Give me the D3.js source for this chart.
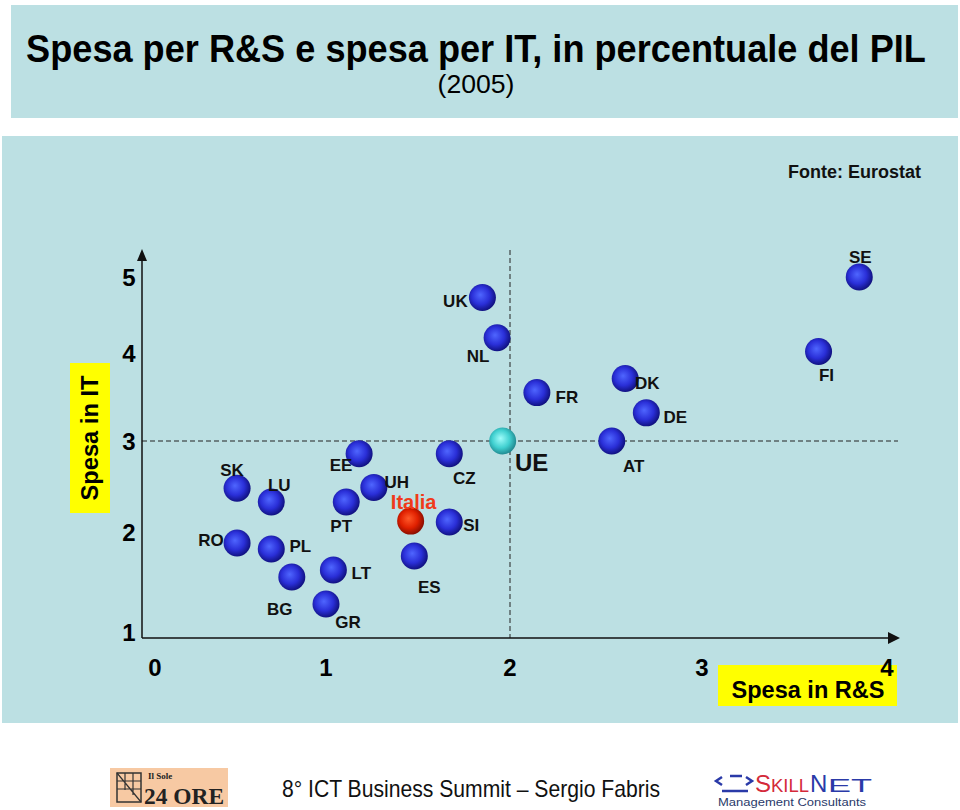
<!DOCTYPE html>
<html>
<head>
<meta charset="utf-8">
<script src="https://cdn.jsdelivr.net/npm/d3@7"></script>
<style>
  html, body { margin: 0; padding: 0; background: #ffffff; }
  svg { display: block; font-family: "Liberation Sans", Arial, sans-serif; }
</style>
</head>
<body>
<svg id="chart" width="960" height="810"></svg>
<script>
// ---- DATA ----
const countries = ["UK","NL","UE","EE","CZ","SK","LU","PT","UH","Italia","SI","RO","PL","BG","LT","ES","GR","SE","FI","FR","DK","DE","AT"];
const spesaRS   = [1.85,1.93,1.96,1.18,1.67,0.48,0.68,1.11,1.26,1.46,1.67,0.48,0.68,0.80,1.04,1.48,1.00,3.85,3.63,2.14,2.60,2.71,2.53];
const spesaIT   = [4.73,4.20,3.00,2.86,2.86,2.48,2.33,2.33,2.49,2.12,2.11,1.89,1.83,1.55,1.62,1.76,1.28,5.00,4.02,3.55,3.71,3.32,3.00];
const xTicks = [0,1,2,3,4];
const yTicks = [1,2,3,4,5];
const refRS = 2;   // dashed reference (UE)
const refIT = 3;

// ---- LAYOUT / STYLE ----
const labelOffsets = {
  UK:[-27,3], NL:[-19,18], UE:[29,22], EE:[-18,11], CZ:[15,24], SK:[-5,-18],
  LU:[8,-17], PT:[-5,24], UH:[23,-5], Italia:[3,-18], SI:[22,3], RO:[-26,-3],
  PL:[29,-3], BG:[-12,32], LT:[28,3], ES:[15,31], GR:[22,18], SE:[1,-20],
  FI:[8,24], FR:[30,4], DK:[22,4], DE:[29,4], AT:[22,25]
};
const bg = "#bce0e3";
const svg = d3.select("#chart");
const defs = svg.append("defs");

function grad(id, c0, c1, c2) {
  const g = defs.append("radialGradient").attr("id", id)
    .attr("cx", "45%").attr("cy", "45%").attr("r", "60%").attr("fx", "42%").attr("fy", "40%");
  g.append("stop").attr("offset", "0%").attr("stop-color", c0);
  g.append("stop").attr("offset", "55%").attr("stop-color", c1);
  g.append("stop").attr("offset", "100%").attr("stop-color", c2);
}
grad("gBlue", "#4f66ff", "#2a2fd8", "#0c0c70");
grad("gRed", "#ff5a2a", "#e02000", "#7a0a00");
grad("gCyan", "#9ffcfa", "#40d0d0", "#1a7d85");

// panels
svg.append("rect").attr("x", 11).attr("y", 5).attr("width", 947).attr("height", 113).attr("fill", bg);
svg.append("rect").attr("x", 2).attr("y", 136).attr("width", 956).attr("height", 587).attr("fill", bg);

// title (condensed horizontally to fit, like the original)
const tg = svg.append("g");
const tt = tg.append("text").attr("x", 0).attr("y", 0).attr("text-anchor", "middle")
  .attr("font-size", 38).attr("font-weight", "bold")
  .text("Spesa per R&S e spesa per IT, in percentuale del PIL");
const tLen = tt.node().getComputedTextLength();
tg.attr("transform", `translate(476,62) scale(${900 / tLen},1)`);

const sg = svg.append("g");
const st = sg.append("text").attr("x", 0).attr("y", 0).attr("text-anchor", "middle")
  .attr("font-size", 26).text("(2005)");
sg.attr("transform", `translate(476,93) scale(${77 / st.node().getComputedTextLength()},1)`);

svg.append("text").attr("x", 921).attr("y", 178).attr("text-anchor", "end")
  .attr("font-size", 17.5).attr("font-weight", "bold").attr("fill", "#111")
  .attr("textLength", 133).attr("lengthAdjust", "spacingAndGlyphs").text("Fonte: Eurostat");

// scales (piecewise, following the hand-placed tick labels)
const x = d3.scaleLinear().domain(xTicks).range([155, 326, 510, 702, 887]);
const y = d3.scaleLinear().domain(yTicks).range([632, 532, 441, 353, 277]);

const x0 = 142, xEnd = 900, yBase = 638, yTop = 249;

// reference dashed lines
svg.append("line").attr("x1", x0).attr("x2", 898).attr("y1", y(refIT)).attr("y2", y(refIT))
  .attr("stroke", "#222").attr("stroke-width", 1).attr("stroke-dasharray", "5,3");
svg.append("line").attr("x1", x(refRS)).attr("x2", x(refRS)).attr("y1", 250).attr("y2", yBase)
  .attr("stroke", "#222").attr("stroke-width", 1).attr("stroke-dasharray", "5,3");

// axes
svg.append("line").attr("x1", x0).attr("x2", x0).attr("y1", yBase).attr("y2", yTop + 10)
  .attr("stroke", "#111").attr("stroke-width", 1.5);
svg.append("path").attr("d", `M${x0-5},${yTop+12} L${x0},${yTop} L${x0+5},${yTop+12} Z`).attr("fill", "#111");
svg.append("line").attr("x1", x0).attr("x2", xEnd - 10).attr("y1", yBase).attr("y2", yBase)
  .attr("stroke", "#111").attr("stroke-width", 1.5);
svg.append("path").attr("d", `M${xEnd-12},${yBase-6} L${xEnd},${yBase} L${xEnd-12},${yBase+6} Z`).attr("fill", "#111");

// axis title boxes
svg.append("rect").attr("x", 70).attr("y", 363).attr("width", 40).attr("height", 150).attr("fill", "#ffff00");
svg.append("text").attr("transform", "translate(98,438) rotate(-90)").attr("text-anchor", "middle")
  .attr("font-size", 23).attr("font-weight", "bold").attr("textLength", 125).attr("lengthAdjust", "spacingAndGlyphs")
  .text("Spesa in IT");
svg.append("rect").attr("x", 718).attr("y", 665).attr("width", 179).attr("height", 41).attr("fill", "#ffff00");
svg.append("text").attr("x", 808).attr("y", 698).attr("text-anchor", "middle")
  .attr("font-size", 23).attr("font-weight", "bold").attr("textLength", 153).attr("lengthAdjust", "spacingAndGlyphs")
  .text("Spesa in R&S");

// tick labels
svg.selectAll(".yt").data(yTicks).join("text").attr("class", "yt")
  .attr("x", 129).attr("y", d => y(d) + 9).attr("text-anchor", "middle")
  .attr("font-size", 24).attr("font-weight", "bold").text(d => d);
svg.selectAll(".xt").data(xTicks).join("text").attr("class", "xt")
  .attr("x", d => x(d)).attr("y", 676).attr("text-anchor", "middle")
  .attr("font-size", 24).attr("font-weight", "bold").text(d => d);

// points
const pts = countries.map((c, i) => ({ c, rs: spesaRS[i], it: spesaIT[i] }));
svg.selectAll(".pt").data(pts).join("circle").attr("class", "pt")
  .attr("cx", d => x(d.rs)).attr("cy", d => y(d.it)).attr("r", 13.5)
  .attr("fill", d => d.c === "Italia" ? "url(#gRed)" : d.c === "UE" ? "url(#gCyan)" : "url(#gBlue)");

// labels
svg.selectAll(".lb").data(pts).join("text").attr("class", "lb")
  .attr("x", d => x(d.rs) + labelOffsets[d.c][0])
  .attr("y", d => y(d.it) + labelOffsets[d.c][1] + (d.c === "UE" ? 8 : 6))
  .attr("text-anchor", "middle")
  .attr("font-size", d => d.c === "UE" ? 24 : d.c === "Italia" ? 20 : 17)
  .attr("font-weight", "bold")
  .attr("fill", d => d.c === "Italia" ? "#f03a1a" : "#111")
  .text(d => d.c);

// footer
const sole = svg.append("g");
sole.append("rect").attr("x", 110).attr("y", 768).attr("width", 118).attr("height", 39).attr("fill", "#f7c9a3");
sole.append("rect").attr("x", 117).attr("y", 773).attr("width", 24).attr("height", 29).attr("fill", "none").attr("stroke", "#333").attr("stroke-width", 1.5);
sole.append("path").attr("d", "M117,773 L141,802 M125,773 L125,790 M133,773 L133,795 M117,781 L141,781 M117,789 L141,789")
  .attr("fill", "none").attr("stroke", "#333").attr("stroke-width", 1.2);
sole.append("text").attr("x", 148).attr("y", 779).attr("font-family", "Liberation Serif, serif").attr("font-size", 9).attr("font-weight", "bold").attr("fill", "#222").text("Il Sole");
sole.append("text").attr("x", 144).attr("y", 804).attr("font-family", "Liberation Serif, serif").attr("font-size", 23).attr("font-weight", "bold").attr("fill", "#222")
  .attr("textLength", 80).attr("lengthAdjust", "spacingAndGlyphs").text("24 ORE");

svg.append("text").attr("x", 471).attr("y", 797).attr("text-anchor", "middle")
  .attr("font-size", 24).attr("fill", "#111").attr("textLength", 378).attr("lengthAdjust", "spacingAndGlyphs")
  .text("8° ICT Business Summit – Sergio Fabris");

const sk = svg.append("g");
sk.append("path").attr("d", "M722,777 L716,781 L722,785 M730,776 L742,776 M746,777 L752,781 L746,785 M722,791 L748,791")
  .attr("fill", "none").attr("stroke", "#2a3aa8").attr("stroke-width", 2.5);
sk.append("text").attr("x", 755).attr("y", 792).attr("font-size", 24).attr("fill", "#d42a3a").text("S");
sk.append("text").attr("x", 771).attr("y", 792).attr("font-size", 18).attr("fill", "#d42a3a")
  .attr("textLength", 38).attr("lengthAdjust", "spacingAndGlyphs").text("KILL");
sk.append("text").attr("x", 810).attr("y", 792).attr("font-size", 24).attr("fill", "#2a3aa8").text("N");
sk.append("text").attr("x", 828).attr("y", 792).attr("font-size", 18).attr("fill", "#2a3aa8")
  .attr("textLength", 44).attr("lengthAdjust", "spacingAndGlyphs").text("ET");
sk.append("text").attr("x", 792).attr("y", 806).attr("text-anchor", "middle").attr("font-size", 10).attr("fill", "#2a3a6a")
  .attr("textLength", 148).attr("lengthAdjust", "spacingAndGlyphs").text("Management Consultants");
</script>
</body>
</html>
